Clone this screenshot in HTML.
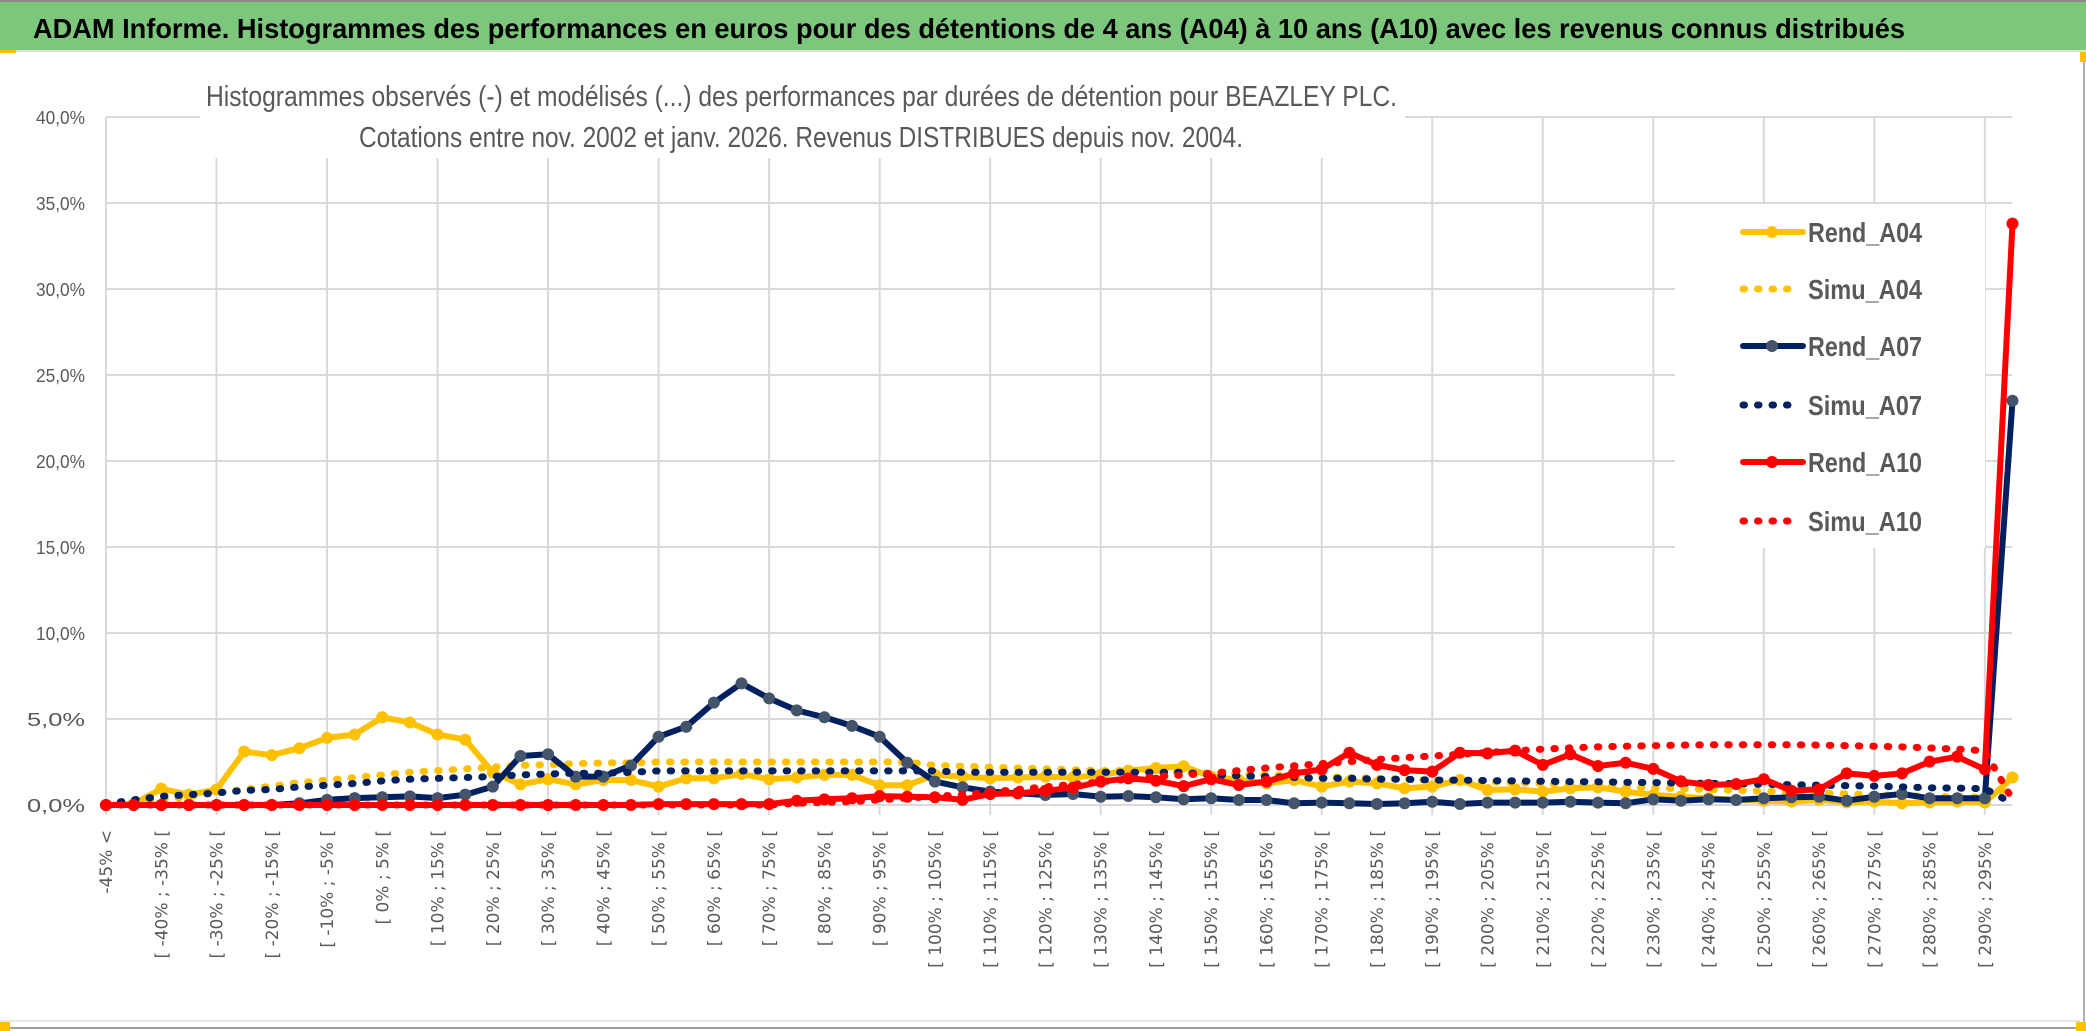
<!DOCTYPE html>
<html><head><meta charset="utf-8"><style>
html,body{margin:0;padding:0;background:#fff;}
svg{display:block;}
</style></head><body>
<svg id="chart" width="2086" height="1031" viewBox="0 0 2086 1031" xmlns="http://www.w3.org/2000/svg">
<rect x="0" y="0" width="2086" height="1031" fill="#ffffff"/>
<rect x="0" y="0" width="2086" height="50" fill="#7dc77d"/>
<line x1="0" y1="1" x2="2086" y2="1" stroke="#8a8a8a" stroke-width="2"/>
<line x1="0" y1="51" x2="2086" y2="51" stroke="#e0e0e0" stroke-width="2"/>
<text x="33" y="38" font-family="Liberation Sans, sans-serif" font-weight="bold" font-size="28" fill="#000" textLength="1872" lengthAdjust="spacingAndGlyphs">ADAM Informe. Histogrammes des performances en euros pour des détentions de 4 ans (A04) à 10 ans (A10) avec les revenus connus distribués</text>
<line x1="2084" y1="52" x2="2084" y2="1031" stroke="#b0b0b0" stroke-width="2"/>
<line x1="0" y1="1028" x2="2086" y2="1028" stroke="#a0a0a0" stroke-width="2"/>
<line x1="0" y1="1021" x2="2080" y2="1021" stroke="#e6e6e6" stroke-width="2"/>
<rect x="0" y="1022" width="10" height="9" fill="#ffc000"/>
<rect x="2076" y="1022" width="10" height="9" fill="#ffc000"/>
<rect x="0" y="50" width="16" height="3" fill="#ffc000"/>
<rect x="2080" y="52" width="6" height="10" fill="#ffc000"/>
<g id="grid"></g>
<g id="yaxis"></g>
<g id="xaxis"></g>
<g id="series"></g>
<rect x="200" y="58" width="1205" height="100" fill="#fff"/>
<text x="206" y="106" font-family="Liberation Sans, sans-serif" font-size="29" fill="#595959" textLength="1191" lengthAdjust="spacingAndGlyphs">Histogrammes observés (-) et modélisés (...) des performances par durées de détention pour BEAZLEY PLC.</text>
<text x="359" y="147" font-family="Liberation Sans, sans-serif" font-size="29" fill="#595959" textLength="884" lengthAdjust="spacingAndGlyphs">Cotations entre nov. 2002 et janv. 2026. Revenus DISTRIBUES depuis nov. 2004.</text>
<g id="legend"></g>
</svg>
<script>
const categoryCount = 70;
const yTicks = [0,5,10,15,20,25,30,35,40];
const yTickLabels = ["0,0%","5,0%","10,0%","15,0%","20,0%","25,0%","30,0%","35,0%","40,0%"];
const rendA04 = [0,0.05,0.95,0.6,0.9,3.1,2.9,3.3,3.9,4.1,5.1,4.8,4.1,3.8,1.9,1.2,1.5,1.2,1.45,1.45,
1.07,1.55,1.55,1.8,1.5,1.6,1.75,1.75,1.15,1.15,1.75,1.65,1.55,1.6,1.65,1.6,1.75,2.0,2.15,2.25,
1.65,1.45,1.26,1.45,1.07,1.36,1.26,0.97,1.07,1.45,0.87,0.91,0.78,0.97,1.03,0.78,0.58,0.48,0.39,0.29,
0.25,0.2,0.3,0.15,0.2,0.1,0.15,0.2,0.15,1.6];
const simuA04 = [0,0.1,0.3,0.5,0.7,0.9,1.1,1.3,1.45,1.6,1.75,1.9,2.0,2.1,2.2,2.3,2.35,2.4,2.45,2.45,
2.5,2.5,2.5,2.5,2.5,2.5,2.5,2.5,2.5,2.5,2.3,2.25,2.2,2.15,2.1,2.05,2.0,2.0,1.95,1.9,
1.85,1.8,1.75,1.7,1.65,1.6,1.55,1.5,1.45,1.4,1.35,1.3,1.25,1.15,1.1,1.05,1.0,0.95,0.9,0.85,
0.8,0.75,0.7,0.65,0.6,0.55,0.5,0.48,0.45,1.0];
const rendA07 = [0,0,0,0,0,0,0,0.1,0.3,0.4,0.45,0.5,0.4,0.6,1.07,2.85,2.95,1.65,1.65,2.3,
3.97,4.55,5.95,7.07,6.2,5.5,5.1,4.6,3.97,2.46,1.36,1.03,0.78,0.68,0.58,0.64,0.48,0.52,0.45,0.33,
0.39,0.29,0.29,0.1,0.14,0.1,0.06,0.1,0.19,0.06,0.14,0.14,0.14,0.19,0.14,0.1,0.33,0.25,0.33,0.29,
0.39,0.45,0.48,0.25,0.48,0.64,0.39,0.39,0.39,23.5];
const simuA07 = [0.05,0.3,0.5,0.6,0.7,0.85,0.9,1.05,1.15,1.25,1.4,1.5,1.55,1.6,1.65,1.75,1.8,1.85,1.85,1.9,
1.98,1.98,1.98,1.98,1.98,1.98,1.98,1.98,1.98,1.98,1.98,1.9,1.9,1.9,1.9,1.9,1.9,1.9,1.9,1.9,
1.75,1.7,1.65,1.6,1.55,1.55,1.5,1.5,1.45,1.45,1.42,1.4,1.38,1.36,1.35,1.32,1.3,1.28,1.26,1.25,
1.2,1.18,1.15,1.12,1.1,1.05,1.0,0.98,0.95,0.1];
const rendA10 = [0,0,0,0,0,0,0,0,0,0,0,0,0,0,0,0,0,0,0,0,
0.05,0.05,0.05,0.05,0.05,0.25,0.33,0.39,0.52,0.48,0.45,0.3,0.64,0.68,0.83,1.0,1.36,1.55,1.41,1.1,
1.5,1.16,1.36,1.84,2.07,3.04,2.33,2.03,1.94,3.04,3.0,3.16,2.33,2.95,2.27,2.46,2.1,1.38,1.16,1.22,
1.5,0.83,0.91,1.84,1.69,1.84,2.52,2.81,2.07,33.8];
const simuA10 = [0,0,0,0,0,0,0,0,0,0,0,0,0,0,0,0,0,0,0,0,
0,0,0,0,0,0.1,0.15,0.2,0.3,0.4,0.5,0.6,0.75,0.9,1.05,1.2,1.35,1.5,1.65,1.75,
1.85,2.0,2.15,2.28,2.4,2.52,2.65,2.75,2.85,2.95,3.05,3.15,3.25,3.32,3.38,3.42,3.45,3.48,3.5,3.5,
3.5,3.5,3.48,3.45,3.42,3.38,3.32,3.25,3.15,0.3];
const seriesNames = ["Rend_A04","Simu_A04","Rend_A07","Simu_A07","Rend_A10","Simu_A10"];

const NS = "http://www.w3.org/2000/svg";
const X0 = 106, DX = 27.63, Y0 = 805, PXPCT = 17.2, XR = 2012;
function xs(i){ return X0 + i*DX; }
function ys(v){ return Y0 - v*PXPCT; }
function catLabel(i){
  if(i===0) return "-45% <";
  const lo = -45 + 5*(i-1);
  return "[ " + lo + "% ; " + (lo+5) + "% [";
}
function mk(tag, attrs, parent){
  const e = document.createElementNS(NS, tag);
  for(const k in attrs) e.setAttribute(k, attrs[k]);
  parent.appendChild(e);
  return e;
}
const grid = document.getElementById('grid');
yTicks.forEach((t)=>{
  const l = mk('line',{x1:X0,x2:XR,y1:ys(t),y2:ys(t),stroke:'#d9d9d9','stroke-width':2},grid);
  
  
});
for(let i=0;i<categoryCount;i+=4){
  const l = mk('line',{x1:xs(i),x2:xs(i),y1:ys(40),y2:815,stroke:'#d9d9d9','stroke-width':2},grid);
  
  
}
const yaxis = document.getElementById('yaxis');
yTicks.forEach((t,k)=>{
  const tx = mk('text',{x:85,y:ys(t)+7,'text-anchor':'end','font-family':'Liberation Sans, sans-serif','font-size':18,fill:'#595959',textLength:(yTickLabels[k].length===5?49:58),lengthAdjust:'spacingAndGlyphs'},yaxis);
  tx.textContent = yTickLabels[k];
  
  
});
const xaxis = document.getElementById('xaxis');
for(let i=0;i<categoryCount;i+=2){
  const x = xs(i)+6;
  const tx = mk('text',{x:0,y:0,'text-anchor':'end','font-family':'DejaVu Sans, sans-serif','font-size':17,fill:'#595959',transform:'translate('+x+',830) rotate(-90)'},xaxis);
  tx.textContent = catLabel(i);
  
  
}
const sg = document.getElementById('series');
function drawSeries(vals, color, dotted, markerColor, name){
  const g = mk('g',{},sg);
  
  
  const pts = vals.map((v,i)=>xs(i).toFixed(1)+','+ys(v).toFixed(1)).join(' ');
  if(dotted){
    const p = mk('polyline',{points:pts,fill:'none',stroke:color,'stroke-width':7,'stroke-linecap':'round','stroke-dasharray':'1.5 13','stroke-linejoin':'round'},g);
    
    
  } else {
    const p = mk('polyline',{points:pts,fill:'none',stroke:color,'stroke-width':6,'stroke-linejoin':'round'},g);
    
    
    vals.forEach((v,i)=>{
      const c = mk('circle',{cx:xs(i),cy:ys(v),r:6,fill:markerColor},g);
      
      
    });
  }
}
drawSeries(rendA04,'#ffc000',false,'#ffc000','rend-a04-series');
drawSeries(simuA04,'#ffc000',true,null,'simu-a04-series');
drawSeries(rendA07,'#002060',false,'#44546a','rend-a07-series');
drawSeries(simuA07,'#002060',true,null,'simu-a07-series');
drawSeries(rendA10,'#ff0000',false,'#ff0000','rend-a10-series');
drawSeries(simuA10,'#ff0000',true,null,'simu-a10-series');

const lg = document.getElementById('legend');
const bg = mk('rect',{x:1675,y:204,width:310,height:344,fill:'#fff'},lg);


const rowY = [232,289,346,405,462,521];
const lcol = ['#ffc000','#ffc000','#002060','#002060','#ff0000','#ff0000'];
const mcol = ['#ffc000',null,'#44546a',null,'#ff0000',null];
seriesNames.forEach((n,k)=>{
  const y = rowY[k];
  const g = mk('g',{},lg);
  
  
  if(k%2===0){
    mk('line',{x1:1743,x2:1803,y1:y,y2:y,stroke:lcol[k],'stroke-width':6,'stroke-linecap':'round'},g);
    mk('circle',{cx:1772,cy:y,r:6,fill:mcol[k]},g);
  } else {
    mk('line',{x1:1743,x2:1800,y1:y,y2:y,stroke:lcol[k],'stroke-width':7,'stroke-linecap':'round','stroke-dasharray':'1.5 13'},g);
  }
  const t = mk('text',{x:1808,y:y+10,'font-family':'Liberation Sans, sans-serif','font-size':28,'font-weight':'bold',fill:'#595959',textLength:114,lengthAdjust:'spacingAndGlyphs'},g);
  t.textContent = n;
  
  
});
</script>
</body></html>
